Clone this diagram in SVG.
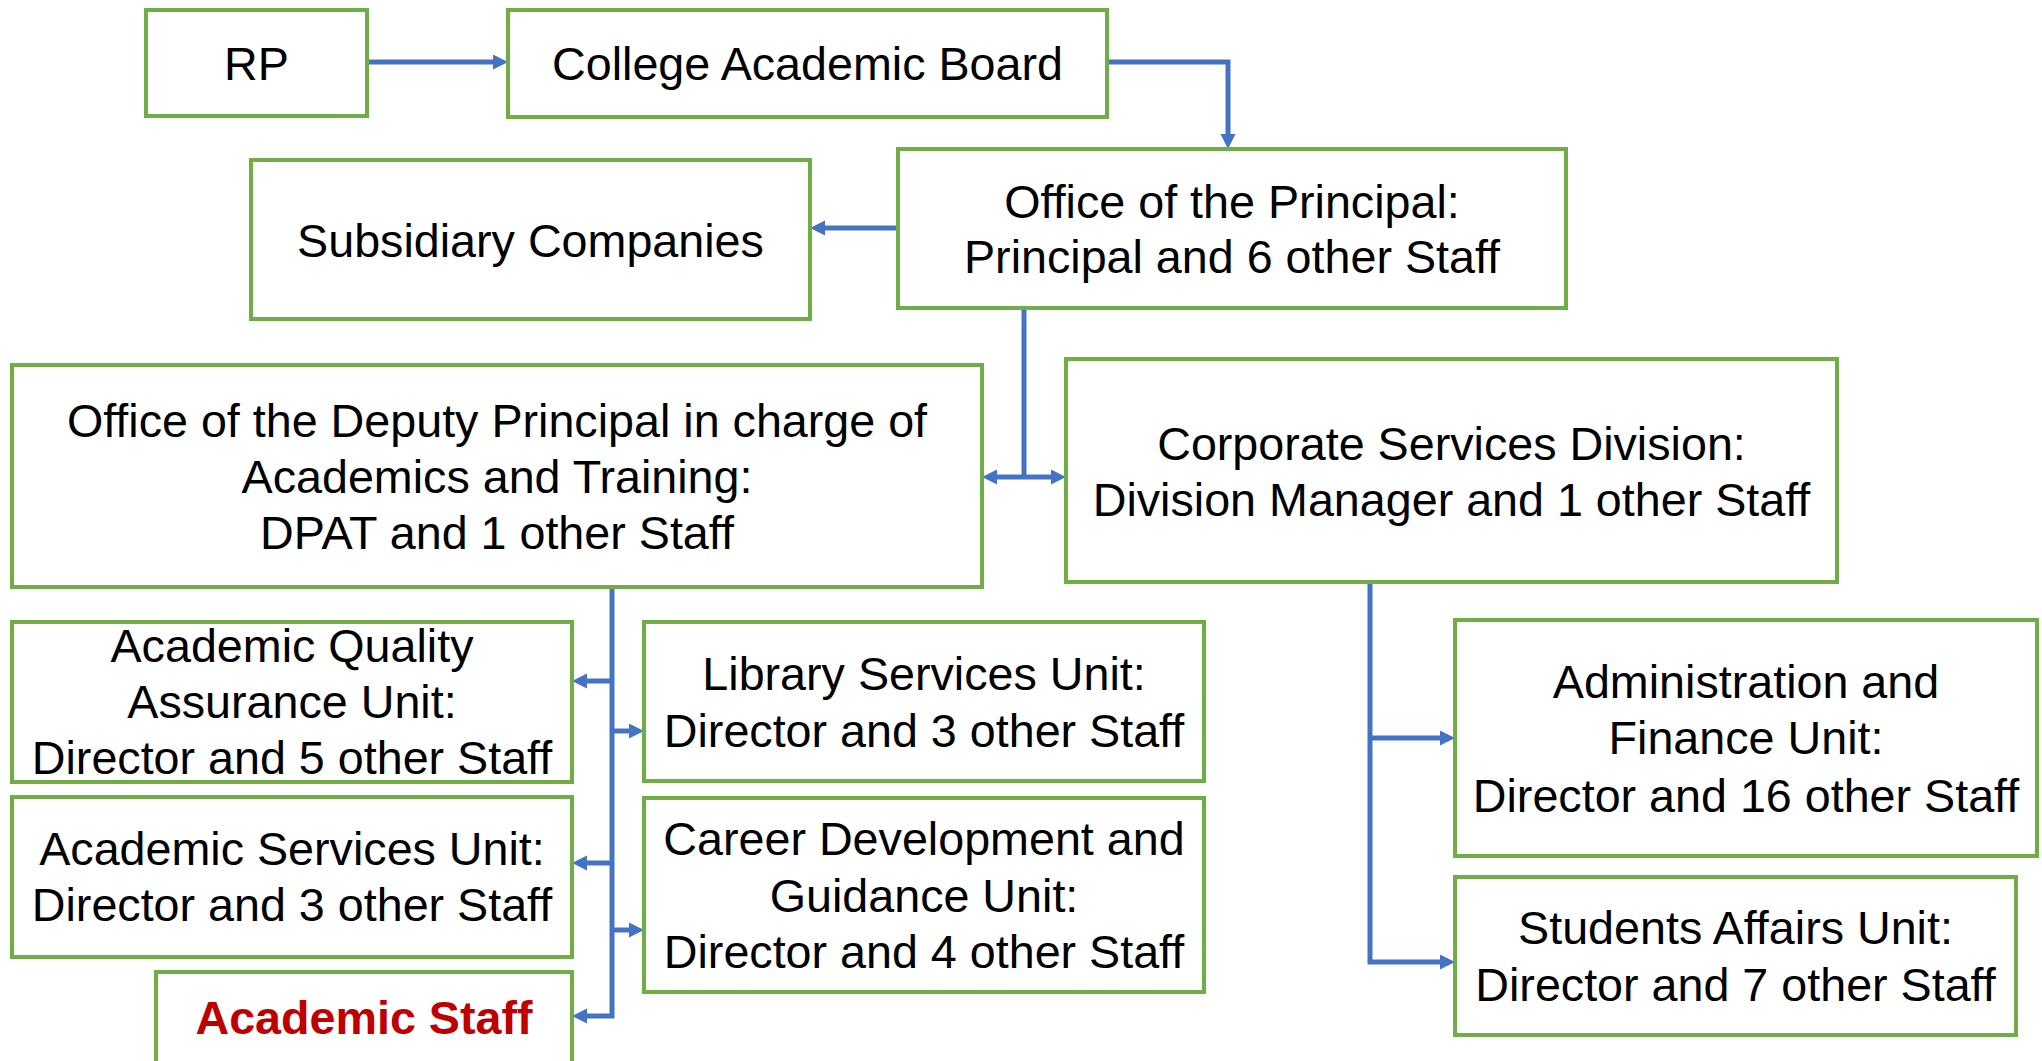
<svg xmlns="http://www.w3.org/2000/svg" width="2042" height="1061" viewBox="0 0 2042 1061">
<style>
.box{fill:#FFFFFF;stroke:#70AD47;stroke-width:4}
.t{font-family:"Liberation Sans",Arial,sans-serif;font-size:46.67px;fill:#000000;text-anchor:middle}
.red{fill:#C00000;font-weight:bold}
.c{fill:none;stroke:#4472C4;stroke-width:5}
</style>
<defs>
<marker id="ah" markerUnits="userSpaceOnUse" markerWidth="16" markerHeight="16" refX="7" refY="7.5" orient="auto-start-reverse" viewBox="0 0 16 16">
<path d="M0,0 L15,7.5 L0,15 z" fill="#4472C4"/>
</marker>
</defs>
<rect width="2042" height="1061" fill="#FFFFFF"/>
<g id="connectors">
<path class="c" d="M367,62 H500" marker-end="url(#ah)"/>
<path class="c" d="M1107,62 H1228 V141" marker-end="url(#ah)"/>
<path class="c" d="M898,228 H818" marker-end="url(#ah)"/>
<path class="c" d="M1024,308 V477"/>
<path class="c" d="M990,477 H1058" marker-start="url(#ah)" marker-end="url(#ah)"/>
<path class="c" d="M612,587 V1016 H580" marker-end="url(#ah)"/>
<path class="c" d="M612,681 H580" marker-end="url(#ah)"/>
<path class="c" d="M612,731 H636" marker-end="url(#ah)"/>
<path class="c" d="M612,863 H580" marker-end="url(#ah)"/>
<path class="c" d="M612,930 H636" marker-end="url(#ah)"/>
<path class="c" d="M1370,582 V962 H1447" marker-end="url(#ah)"/>
<path class="c" d="M1370,738 H1447" marker-end="url(#ah)"/>
</g>
<g id="rp">
<rect class="box" x="146" y="10" width="221" height="106"/>
<text class="t" x="256.5" y="80">RP</text>
</g>
<g id="college-academic-board">
<rect class="box" x="508" y="10" width="599" height="107"/>
<text class="t" x="807.5" y="80">College Academic Board</text>
</g>
<g id="subsidiary-companies">
<rect class="box" x="251" y="160" width="559" height="159"/>
<text class="t" x="530.5" y="257">Subsidiary Companies</text>
</g>
<g id="office-principal">
<rect class="box" x="898" y="149" width="668" height="159"/>
<text class="t" x="1232" y="218">Office of the Principal:</text>
<text class="t" x="1232" y="273">Principal and 6 other Staff</text>
</g>
<g id="office-deputy-principal">
<rect class="box" x="12" y="365" width="970" height="222"/>
<text class="t" x="497" y="437">Office of the Deputy Principal in charge of</text>
<text class="t" x="497" y="493">Academics and Training:</text>
<text class="t" x="497" y="549">DPAT and 1 other Staff</text>
</g>
<g id="corporate-services">
<rect class="box" x="1066" y="359" width="771" height="223"/>
<text class="t" x="1451.5" y="460">Corporate Services Division:</text>
<text class="t" x="1451.5" y="516">Division Manager and 1 other Staff</text>
</g>
<g id="aqa-unit">
<rect class="box" x="12" y="622" width="560" height="160"/>
<text class="t" x="292" y="662">Academic Quality</text>
<text class="t" x="292" y="718">Assurance Unit:</text>
<text class="t" x="292" y="774">Director and 5 other Staff</text>
</g>
<g id="library-unit">
<rect class="box" x="644" y="622" width="560" height="159"/>
<text class="t" x="924" y="690">Library Services Unit:</text>
<text class="t" x="924" y="747">Director and 3 other Staff</text>
</g>
<g id="academic-services-unit">
<rect class="box" x="12" y="797" width="560" height="160"/>
<text class="t" x="292" y="865">Academic Services Unit:</text>
<text class="t" x="292" y="921">Director and 3 other Staff</text>
</g>
<g id="career-unit">
<rect class="box" x="644" y="798" width="560" height="194"/>
<text class="t" x="924" y="855">Career Development and</text>
<text class="t" x="924" y="912">Guidance Unit:</text>
<text class="t" x="924" y="968">Director and 4 other Staff</text>
</g>
<g id="academic-staff">
<rect class="box" x="156" y="972" width="416" height="110"/>
<text class="t red" x="364" y="1034">Academic Staff</text>
</g>
<g id="admin-finance-unit">
<rect class="box" x="1455" y="620" width="582" height="236"/>
<text class="t" x="1746" y="698">Administration and</text>
<text class="t" x="1746" y="754">Finance Unit:</text>
<text class="t" x="1746" y="812">Director and 16 other Staff</text>
</g>
<g id="students-affairs-unit">
<rect class="box" x="1455" y="877" width="561" height="158"/>
<text class="t" x="1735.5" y="944">Students Affairs Unit:</text>
<text class="t" x="1735.5" y="1001">Director and 7 other Staff</text>
</g>
</svg>
